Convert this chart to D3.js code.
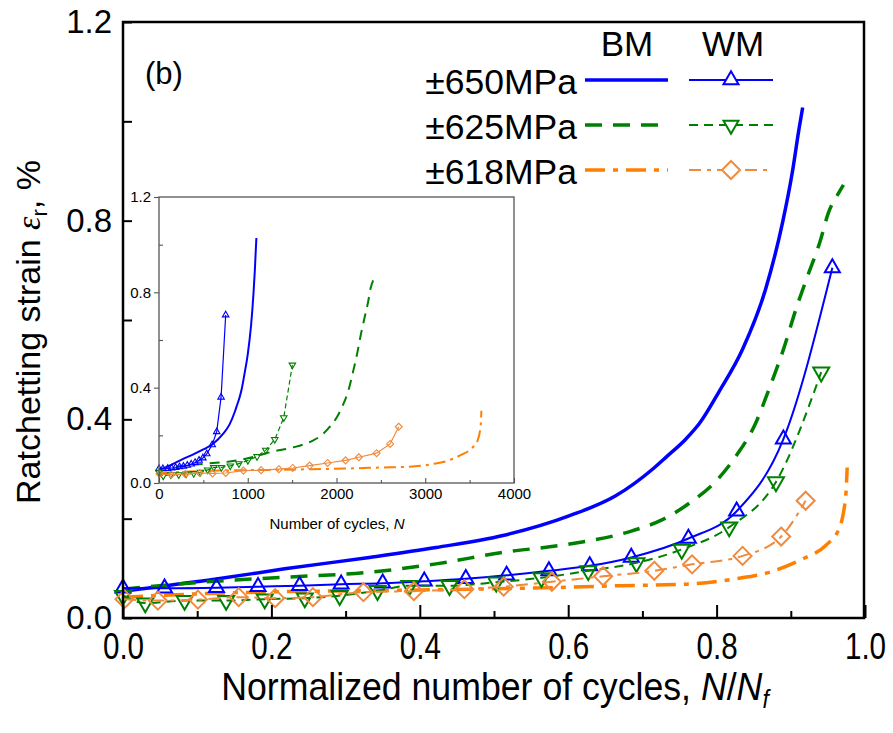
<!DOCTYPE html>
<html><head><meta charset="utf-8">
<script src="https://cdn.jsdelivr.net/npm/d3@7"></script>
<style>
body{margin:0;background:#fff}
svg{display:block}
text{font-family:"Liberation Sans",Arial,sans-serif;fill:#000}
</style>
</head><body>
<svg id="chart" width="893" height="733"></svg>
<script>
// ---------- data (normalized cycles N/Nf, ratchetting strain %) ----------
const stressLabels = ["\u00b1650MPa", "\u00b1625MPa", "\u00b1618MPa"];
const colorsBM = ["#0000ff", "#008000", "#ff7f00"];
const colorsWM = ["#0000ff", "#008000", "#f08a3c"];
const fatigueLifeBM = [1198, 2507, 3722];
const fatigueLifeWM = [786, 1597, 2936];

const bm650X = [0, 0.128, 0.218, 0.332, 0.422, 0.512, 0.602, 0.664, 0.714, 0.732, 0.759, 0.777, 0.803, 0.835, 0.866, 0.889, 0.902, 0.911, 0.916];
const bm650Y = [0.054, 0.079, 0.099, 0.122, 0.142, 0.166, 0.206, 0.246, 0.300, 0.324, 0.361, 0.392, 0.455, 0.541, 0.662, 0.797, 0.897, 0.984, 1.028];
const bm625X = [0, 0.105, 0.218, 0.332, 0.422, 0.512, 0.602, 0.685, 0.727, 0.765, 0.800, 0.828, 0.851, 0.871, 0.891, 0.907, 0.922, 0.939, 0.951, 0.965, 0.971];
const bm625Y = [0.058, 0.072, 0.082, 0.092, 0.109, 0.132, 0.149, 0.175, 0.198, 0.233, 0.277, 0.330, 0.387, 0.462, 0.545, 0.622, 0.686, 0.756, 0.817, 0.857, 0.872];
const bm618X = [0, 0.128, 0.262, 0.332, 0.467, 0.602, 0.669, 0.759, 0.826, 0.871, 0.916, 0.947, 0.965, 0.974, 0.976];
const bm618Y = [0.042, 0.050, 0.054, 0.055, 0.058, 0.062, 0.065, 0.068, 0.079, 0.092, 0.119, 0.146, 0.180, 0.246, 0.303];

const wm650X = [0, 0.056, 0.126, 0.182, 0.238, 0.294, 0.350, 0.406, 0.462, 0.517, 0.574, 0.629, 0.685, 0.762, 0.827, 0.890, 0.956];
const wm650Y = [0.060, 0.060, 0.061, 0.063, 0.065, 0.068, 0.070, 0.074, 0.079, 0.086, 0.095, 0.105, 0.122, 0.160, 0.215, 0.360, 0.705];
const wm625X = [0, 0.030, 0.083, 0.139, 0.191, 0.245, 0.292, 0.343, 0.386, 0.440, 0.503, 0.564, 0.627, 0.692, 0.753, 0.817, 0.880, 0.941];
const wm625Y = [0.045, 0.030, 0.035, 0.035, 0.038, 0.040, 0.045, 0.055, 0.065, 0.065, 0.072, 0.081, 0.095, 0.111, 0.138, 0.183, 0.274, 0.495];
const wm618X = [0.002, 0.047, 0.101, 0.156, 0.205, 0.256, 0.324, 0.392, 0.460, 0.513, 0.578, 0.647, 0.716, 0.767, 0.835, 0.887, 0.920];
const wm618Y = [0.038, 0.035, 0.037, 0.042, 0.040, 0.042, 0.052, 0.054, 0.058, 0.063, 0.073, 0.084, 0.095, 0.108, 0.125, 0.164, 0.236];

const mainXTicks = [0, 0.2, 0.4, 0.6, 0.8, 1.0];
const mainXMinor = [0.1, 0.3, 0.5, 0.7, 0.9];
const mainYTicks = [0, 0.4, 0.8, 1.2];
const mainYMinor = [0.2, 0.6, 1.0];
const insetXTicks = [0, 1000, 2000, 3000, 4000];
const insetXMinor = [500, 1500, 2500, 3500];
const insetYTicks = [0, 0.4, 0.8, 1.2];
const insetYMinor = [0.2, 0.6, 1.0];

// ---------- styling ----------
const bmStyles = [
  {dash: null, w: 3.5},
  {dash: "17,11", w: 3.5},
  {dash: "20,8,5,8", w: 3.5}
];
const wmStyles = [
  {dash: null, w: 2, marker: "up"},
  {dash: "9,6", w: 2, marker: "down"},
  {dash: "12,6,4,6", w: 2, marker: "diamond"}
];

const bmSeries = [[bm650X, bm650Y], [bm625X, bm625Y], [bm618X, bm618Y]];
const wmSeries = [[wm650X, wm650Y], [wm625X, wm625Y], [wm618X, wm618Y]];

function zip(xs, ys) { return xs.map((v, i) => [v, ys[i]]); }

function markerPath(type, s) {
  if (type === "diamond") {
    const r = s / 2;
    return `M0,${-r}L${r},0L0,${r}L${-r},0Z`;
  }
  const h = s * Math.sqrt(3) / 2;
  const sign = type === "up" ? 1 : -1;
  return `M0,${-sign * 2 * h / 3}L${s / 2},${sign * h / 3}L${-s / 2},${sign * h / 3}Z`;
}

const svg = d3.select("#chart");

// ---------- main plot ----------
const M = {l: 123, r: 864, t: 22, b: 618};
const x = d3.scaleLinear().domain([0, 1]).range([M.l, M.r + 1]);
const y = d3.scaleLinear().domain([0, 1.2]).range([M.b, M.t]);

const main = svg.append("g");

bmSeries.forEach((s, i) => {
  const line = d3.line().x(d => x(d[0])).y(d => y(d[1])).curve(d3.curveMonotoneX);
  main.append("path").datum(zip(s[0], s[1]))
    .attr("d", line).attr("fill", "none")
    .attr("stroke", colorsBM[i]).attr("stroke-width", bmStyles[i].w)
    .attr("stroke-dasharray", bmStyles[i].dash);
});
wmSeries.forEach((s, i) => {
  const line = d3.line().x(d => x(d[0])).y(d => y(d[1])).curve(d3.curveMonotoneX);
  const data = zip(s[0], s[1]);
  main.append("path").datum(data)
    .attr("d", line).attr("fill", "none")
    .attr("stroke", colorsWM[i]).attr("stroke-width", wmStyles[i].w)
    .attr("stroke-dasharray", wmStyles[i].dash);
  const size = wmStyles[i].marker === "diamond" ? 18 : (wmStyles[i].marker === "up" ? 15 : 16);
  main.selectAll(null).data(data).enter().append("path")
    .attr("transform", d => `translate(${x(d[0])},${y(d[1])})`)
    .attr("d", markerPath(wmStyles[i].marker, size))
    .attr("fill", "none").attr("stroke", colorsWM[i]).attr("stroke-width", 2);
});

function styleAxis(g) {
  g.select(".domain").remove();
  g.selectAll(".tick line").attr("stroke", "#000").attr("stroke-width", 2);
}
main.append("g").attr("transform", `translate(0,${M.b})`)
  .call(d3.axisBottom(x).tickValues(mainXTicks).tickSizeInner(-13).tickSizeOuter(0).tickPadding(15).tickFormat(d3.format(".1f")))
  .call(styleAxis)
  .call(g => g.selectAll("text").attr("font-size", 37).attr("fill", "#000").attr("transform", "scale(0.8,1)"));
main.append("g").attr("transform", `translate(0,${M.b})`)
  .call(d3.axisBottom(x).tickValues(mainXMinor).tickSizeInner(-7).tickSizeOuter(0).tickFormat(""))
  .call(styleAxis);
main.append("g").attr("transform", `translate(${M.l},0)`)
  .call(d3.axisLeft(y).tickValues(mainYTicks).tickSizeInner(-9).tickSizeOuter(0).tickPadding(11).tickFormat(d3.format(".1f")))
  .call(styleAxis)
  .call(g => g.selectAll("text").attr("font-size", 33).attr("fill", "#000"));
main.append("g").attr("transform", `translate(${M.l},0)`)
  .call(d3.axisLeft(y).tickValues(mainYMinor).tickSizeInner(-9).tickSizeOuter(0).tickFormat(""))
  .call(styleAxis);

main.append("rect").attr("x", M.l).attr("y", M.t).attr("width", M.r - M.l).attr("height", M.b - M.t)
  .attr("fill", "none").attr("stroke", "#000").attr("stroke-width", 2.5);

const yt = main.append("text").attr("transform", `translate(40,${(M.t + M.b) / 2 + 12}) rotate(-90)`)
  .attr("text-anchor", "middle").attr("font-size", 34);
yt.append("tspan").text("Ratchetting strain ");
yt.append("tspan").attr("font-family", "Liberation Serif, serif").attr("font-style", "italic").text("\u03b5");
yt.append("tspan").attr("font-size", 22).attr("dy", 7).text("r");
yt.append("tspan").attr("dy", -7).text(", %");

const xt = main.append("text").attr("transform", "translate(495,700) scale(0.915,1)")
  .attr("text-anchor", "middle").attr("font-size", 39);
xt.append("tspan").text("Normalized number of cycles, ");
xt.append("tspan").attr("font-style", "italic").text("N");
xt.append("tspan").text("/");
xt.append("tspan").attr("font-style", "italic").text("N");
xt.append("tspan").attr("font-style", "italic").attr("font-size", 25).attr("dy", 8).text("f");

main.append("text").attr("x", 145).attr("y", 84).attr("font-size", 31).text("(b)");

const lg = main.append("g");
lg.append("text").attr("x", 627).attr("y", 56).attr("text-anchor", "middle").attr("font-size", 35).text("BM");
lg.append("text").attr("x", 733).attr("y", 56).attr("text-anchor", "middle").attr("font-size", 35).text("WM");
const rowY = [80, 125, 170];
stressLabels.forEach((lab, i) => {
  lg.append("text").attr("x", 577).attr("y", rowY[i] + 14).attr("text-anchor", "end").attr("font-size", 35.5).text(lab);
  lg.append("line").attr("x1", 585).attr("x2", 668).attr("y1", rowY[i]).attr("y2", rowY[i])
    .attr("stroke", colorsBM[i]).attr("stroke-width", bmStyles[i].w).attr("stroke-dasharray", bmStyles[i].dash);
  lg.append("line").attr("x1", 689).attr("x2", 773).attr("y1", rowY[i]).attr("y2", rowY[i])
    .attr("stroke", colorsWM[i]).attr("stroke-width", wmStyles[i].w).attr("stroke-dasharray", wmStyles[i].dash);
  const size = wmStyles[i].marker === "diamond" ? 18 : 15;
  lg.append("path").attr("transform", `translate(731,${rowY[i]})`)
    .attr("d", markerPath(wmStyles[i].marker, size))
    .attr("fill", "#fff").attr("stroke", colorsWM[i]).attr("stroke-width", 2);
});

// ---------- inset ----------
const I = {l: 159, r: 514, t: 197, b: 483};
const ix = d3.scaleLinear().domain([0, 4000]).range([I.l, I.r]);
const iy = d3.scaleLinear().domain([0, 1.2]).range([I.b, I.t]);
const inset = svg.append("g");
inset.append("rect").attr("x", I.l).attr("y", I.t).attr("width", I.r - I.l).attr("height", I.b - I.t)
  .attr("fill", "#fff");

bmSeries.forEach((s, i) => {
  const data = s[0].map((v, k) => [v * fatigueLifeBM[i], s[1][k]]);
  const line = d3.line().x(d => ix(d[0])).y(d => iy(d[1])).curve(d3.curveMonotoneX);
  inset.append("path").datum(data).attr("d", line).attr("fill", "none")
    .attr("stroke", colorsBM[i]).attr("stroke-width", 2)
    .attr("stroke-dasharray", i === 0 ? null : (i === 1 ? "10,7" : "12,5,3,5"));
});
wmSeries.forEach((s, i) => {
  const data = s[0].map((v, k) => [v * fatigueLifeWM[i], s[1][k]]);
  const line = d3.line().x(d => ix(d[0])).y(d => iy(d[1]));
  inset.append("path").datum(data).attr("d", line).attr("fill", "none")
    .attr("stroke", colorsWM[i]).attr("stroke-width", 1.2)
    .attr("stroke-dasharray", i === 1 ? "5,3" : null);
  inset.selectAll(null).data(data).enter().append("path")
    .attr("transform", d => `translate(${ix(d[0])},${iy(d[1])})`)
    .attr("d", markerPath(wmStyles[i].marker, wmStyles[i].marker === "diamond" ? 7 : 6.5))
    .attr("fill", "none").attr("stroke", colorsWM[i]).attr("stroke-width", 1.1);
});

function styleInset(g) {
  g.select(".domain").remove();
  g.selectAll(".tick line").attr("stroke", "#555").attr("stroke-width", 1.1);
  g.selectAll("text").attr("font-size", 15).attr("fill", "#000");
}
inset.append("g").attr("transform", `translate(0,${I.b})`)
  .call(d3.axisBottom(ix).tickValues(insetXTicks).tickSizeInner(-5).tickSizeOuter(0).tickPadding(5).tickFormat(d3.format("d")))
  .call(styleInset);
inset.append("g").attr("transform", `translate(0,${I.b})`)
  .call(d3.axisBottom(ix).tickValues(insetXMinor).tickSizeInner(-3).tickSizeOuter(0).tickFormat(""))
  .call(styleInset);
inset.append("g").attr("transform", `translate(${I.l},0)`)
  .call(d3.axisLeft(iy).tickValues(insetYTicks).tickSizeInner(5).tickSizeOuter(0).tickPadding(3).tickFormat(d3.format(".1f")))
  .call(styleInset);
inset.append("g").attr("transform", `translate(${I.l},0)`)
  .call(d3.axisLeft(iy).tickValues(insetYMinor).tickSizeInner(-4).tickSizeOuter(0).tickFormat(""))
  .call(styleInset);
inset.append("rect").attr("x", I.l).attr("y", I.t).attr("width", I.r - I.l).attr("height", I.b - I.t)
  .attr("fill", "none").attr("stroke", "#555").attr("stroke-width", 1.3);
const il = inset.append("text").attr("x", 337).attr("y", 529).attr("text-anchor", "middle").attr("font-size", 15);
il.append("tspan").text("Number of cycles, ");
il.append("tspan").attr("font-style", "italic").text("N");
</script>
</body></html>
